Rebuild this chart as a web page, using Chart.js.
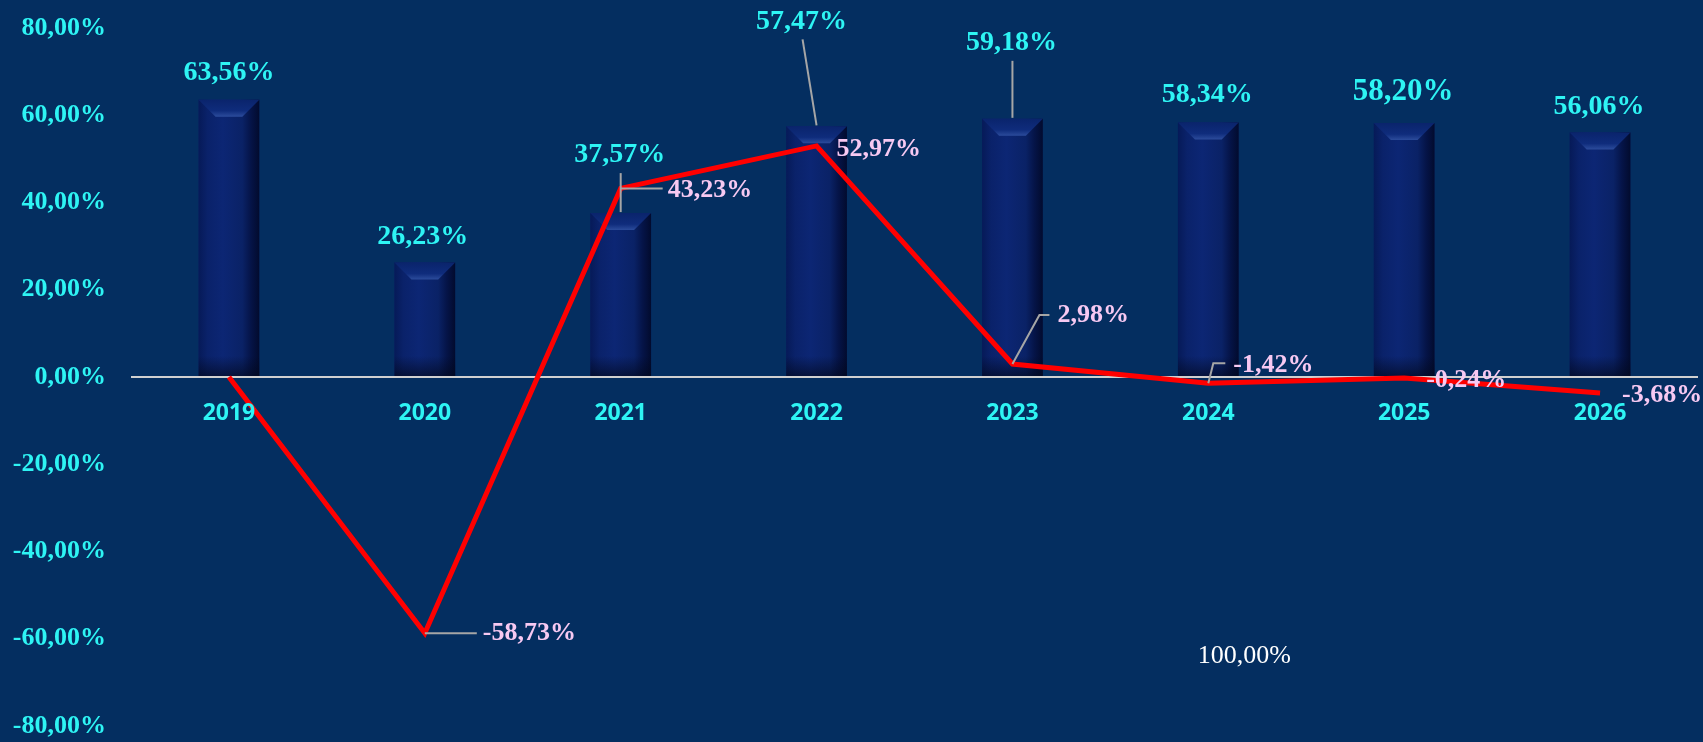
<!DOCTYPE html>
<html>
<head>
<meta charset="utf-8">
<script src="https://cdn.jsdelivr.net/npm/chart.js@4/dist/chart.umd.min.js"></script>
<style>
  html, body { margin: 0; padding: 0; background: #042e60; }
  #wrap { width: 1703px; height: 742px; }
</style>
</head>
<body>
<div id="wrap"><canvas id="chart"></canvas></div>
<script>
// ---- data ----
const years = ['2019', '2020', '2021', '2022', '2023', '2024', '2025', '2026'];
const barValues = [63.56, 26.23, 37.57, 57.47, 59.18, 58.34, 58.20, 56.06];
const lineValues = [0, -58.73, 43.23, 52.97, 2.98, -1.42, -0.24, -3.68];
const yTicks = [-80, -60, -40, -20, 0, 20, 40, 60, 80];
const strayText = '100,00%';
const strayAt = 5;      // category it sits next to
const strayValue = -64; // height it sits at

// ---- label placement (pixel offsets, style only) ----
// bar labels: centre offset from bar top; lead = draw leader line
const barLabelPos = [
    { dx: 0, dy: -27 }, { dx: -2, dy: -26 }, { dx: -1, dy: -58, lead: true },
    { dx: -15, dy: -105, lead: true }, { dx: -1, dy: -76, lead: true },
    { dx: -1, dy: -28 }, { dx: -1, dy: -31, size: 31 }, { dx: -1, dy: -26 }
];
// line labels: left edge offset from point; leader = polyline offsets
const lineLabelPos = [
    null,
    { dx: 58, dy: 0, leader: [[0, 0], [52, 0]] },
    { dx: 47, dy: 2, leader: [[0, 0], [42, 0]] },
    { dx: 20, dy: 3 },
    { dx: 45, dy: -49, leader: [[0, 0], [27, -49], [37, -49]] },
    { dx: 25, dy: -18, leader: [[0, 0], [5, -20], [17, -20]] },
    { dx: 22, dy: 2 },
    { dx: 22, dy: 2 }
];

const fmt = v => v.toFixed(2).replace('.', ',') + '%';
const SERIF = '"Liberation Serif", "Times New Roman", serif';
const CYAN = '#2ef4f4';
const PINK = '#f7c9f2';

// background + bevelled bars + labels
const decorPlugin = {
    id: 'decor',
    beforeDraw(chart) {
        const c = chart.ctx;
        c.save();
        c.fillStyle = '#042e60';
        c.fillRect(0, 0, chart.width, chart.height);
        c.restore();
    },
    afterDatasetDraw(chart, args) {
        if (args.index !== 0) return;
        const c = chart.ctx;
        args.meta.data.forEach(bar => {
            const { x, y, width, base } = bar.getProps(['x', 'y', 'width', 'base'], true);
            const l = x - width / 2, r = x + width / 2;
            const g = c.createLinearGradient(l, 0, r, 0);
            g.addColorStop(0, '#061a58');
            g.addColorStop(0.15, '#0a226a');
            g.addColorStop(0.4, '#0c2674');
            g.addColorStop(0.72, '#0a2266');
            g.addColorStop(0.86, '#051448');
            g.addColorStop(1, '#020b2e');
            c.save();
            c.fillStyle = g;
            c.fillRect(l, y, width, base - y);
            // top bevel
            const bv = 17;
            const tg = c.createLinearGradient(0, y, 0, y + bv);
            tg.addColorStop(0, '#0a246c');
            tg.addColorStop(0.65, '#0f2c7c');
            tg.addColorStop(1, '#2c4c9c');
            c.beginPath();
            c.moveTo(l, y); c.lineTo(r, y); c.lineTo(r - bv, y + bv); c.lineTo(l + bv, y + bv);
            c.closePath();
            c.fillStyle = tg;
            c.fill();
            // bottom shade
            const sg = c.createLinearGradient(0, base - 20, 0, base);
            sg.addColorStop(0, 'rgba(2,8,30,0)');
            sg.addColorStop(1, 'rgba(2,8,30,0.65)');
            c.fillStyle = sg;
            c.fillRect(l, base - 20, width, 20);
            c.restore();
        });
    },
    afterDatasetsDraw(chart) {
        const c = chart.ctx;
        const xs = chart.scales.x, ys = chart.scales.y;
        const zero = ys.getPixelForValue(0);
        c.save();
        // category labels sit just under the zero line
        c.font = 'bold 23px "Open Sans", "Liberation Sans", sans-serif';
        c.fillStyle = CYAN;
        c.textAlign = 'center';
        c.textBaseline = 'middle';
        years.forEach((yr, i) => c.fillText(yr, xs.getPixelForValue(i), zero + 36));

        // bar labels
        const bars = chart.getDatasetMeta(0).data;
        bars.forEach((bar, i) => {
            const p = barLabelPos[i];
            const tx = bar.x + p.dx, ty = bar.y + p.dy;
            if (p.lead) {
                c.strokeStyle = '#a6a6a6';
                c.lineWidth = 2;
                c.beginPath();
                c.moveTo(tx + 1, ty + 18);
                c.lineTo(bar.x, bar.y - 1);
                c.stroke();
            }
            c.font = 'bold ' + (p.size || 28) + 'px ' + SERIF;
            c.fillStyle = CYAN;
            c.textAlign = 'center';
            c.fillText(fmt(barValues[i]), tx, ty);
        });

        // line labels
        const pts = chart.getDatasetMeta(1).data;
        pts.forEach((pt, i) => {
            const p = lineLabelPos[i];
            if (!p) return;
            if (p.leader) {
                c.strokeStyle = '#a6a6a6';
                c.lineWidth = 2;
                c.beginPath();
                p.leader.forEach(([ox, oy], k) => {
                    if (k === 0) c.moveTo(pt.x + ox, pt.y + oy);
                    else c.lineTo(pt.x + ox, pt.y + oy);
                });
                c.stroke();
            }
            c.font = 'bold 26px ' + SERIF;
            c.fillStyle = PINK;
            c.textAlign = 'left';
            c.fillText(fmt(lineValues[i]), pt.x + p.dx, pt.y + p.dy);
        });

        // stray label
        c.font = '26px ' + SERIF;
        c.fillStyle = '#ffffff';
        c.textAlign = 'center';
        c.fillText(strayText, xs.getPixelForValue(strayAt) + 36, ys.getPixelForValue(strayValue));
        c.restore();
    }
};

new Chart(document.getElementById('chart'), {
    data: {
        labels: years,
        datasets: [
            {
                type: 'bar',
                data: barValues,
                backgroundColor: '#0a2468',
                barPercentage: 0.31,
                categoryPercentage: 1,
                order: 2
            },
            {
                type: 'line',
                data: lineValues,
                borderColor: '#ff0000',
                borderWidth: 5,
                pointRadius: 0,
                tension: 0,
                order: 1
            }
        ]
    },
    options: {
        responsive: true,
        maintainAspectRatio: false,
        animation: false,
        layout: { padding: { top: 28, bottom: 16, left: 0, right: 5 } },
        plugins: { legend: { display: false }, tooltip: { enabled: false } },
        scales: {
            x: {
                display: false
            },
            y: {
                min: -80,
                max: 80,
                afterBuildTicks: axis => { axis.ticks = yTicks.map(v => ({ value: v })); },
                afterFit: axis => { axis.width = 131; },
                border: { display: false },
                grid: {
                    drawTicks: true,
                    tickLength: 25,
                    tickColor: 'rgba(0,0,0,0)',
                    color: ctx => ctx.tick && ctx.tick.value === 0 ? '#d0d0d0' : 'rgba(0,0,0,0)',
                    lineWidth: ctx => ctx.tick && ctx.tick.value === 0 ? 2 : 0
                },
                ticks: {
                    padding: 0,
                    color: CYAN,
                    font: { family: SERIF, size: 26, weight: 'bold' },
                    callback: v => fmt(v)
                }
            }
        }
    },
    plugins: [decorPlugin]
});
</script>
</body>
</html>
